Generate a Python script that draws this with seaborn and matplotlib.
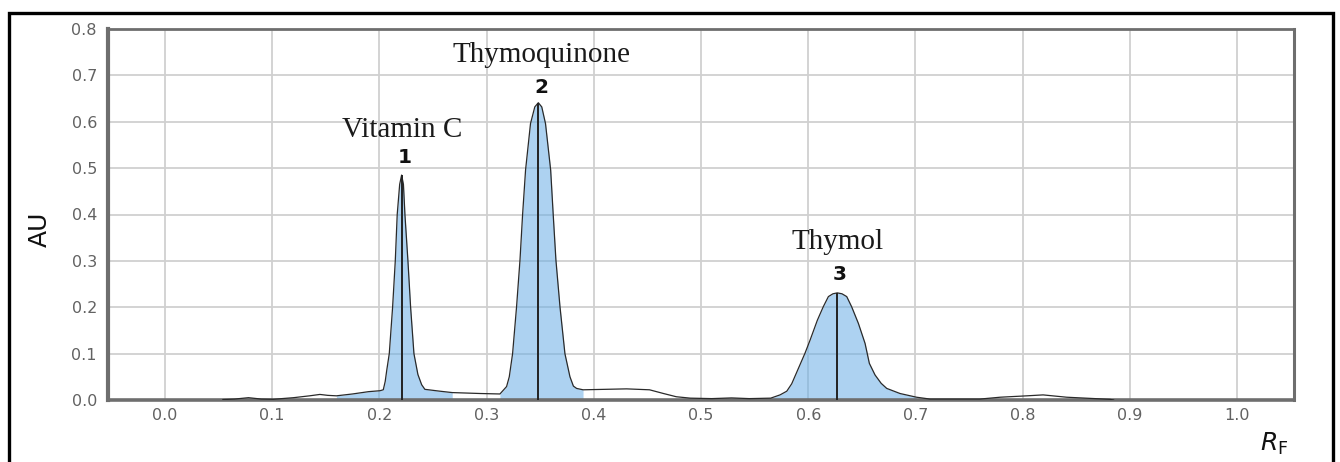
import numpy as np
import pandas as pd
import matplotlib
matplotlib.use("Agg")
import matplotlib.pyplot as plt
from matplotlib.patches import Rectangle
import seaborn as sns

# ---- data ----
rf = [0.054, 0.065, 0.078, 0.090, 0.101, 0.120, 0.135, 0.1446, 0.152, 0.160,
      0.175, 0.190, 0.2006, 0.2037, 0.2055, 0.207, 0.2093, 0.2124, 0.2149, 0.2167,
      0.2190, 0.2208, 0.2225, 0.2239, 0.2267, 0.2292, 0.2323, 0.2360, 0.2395, 0.2425,
      0.2565, 0.268, 0.294, 0.3125, 0.3187, 0.3212, 0.3243, 0.3280, 0.3312, 0.3336,
      0.3364, 0.3410, 0.3450, 0.3483, 0.3515, 0.3550, 0.3598, 0.3622, 0.3647, 0.3685,
      0.3731, 0.3778, 0.381, 0.384, 0.390, 0.4306, 0.452, 0.465, 0.477, 0.490,
      0.510, 0.5286, 0.545, 0.565, 0.5737, 0.5800, 0.5846, 0.5908, 0.597, 0.6017,
      0.6085, 0.614, 0.6188, 0.6230, 0.6271, 0.6315, 0.6359, 0.6405, 0.6468, 0.653,
      0.657, 0.6623, 0.6680, 0.6732, 0.6856, 0.701, 0.7136, 0.740, 0.760, 0.779,
      0.804, 0.819, 0.841, 0.8815, 0.885]
au = [0.001, 0.002, 0.005, 0.002, 0.0015, 0.005, 0.009, 0.012, 0.010, 0.009,
      0.013, 0.018, 0.020, 0.022, 0.040, 0.065, 0.100, 0.200, 0.300, 0.400,
      0.465, 0.485, 0.465, 0.400, 0.300, 0.200, 0.100, 0.055, 0.033, 0.023,
      0.019, 0.016, 0.014, 0.013, 0.029, 0.050, 0.100, 0.201, 0.302, 0.399,
      0.496, 0.596, 0.632, 0.641, 0.632, 0.596, 0.496, 0.399, 0.302, 0.201,
      0.100, 0.050, 0.030, 0.025, 0.022, 0.024, 0.022, 0.014, 0.007, 0.004,
      0.003, 0.0045, 0.003, 0.004, 0.011, 0.019, 0.035, 0.068, 0.101, 0.129,
      0.172, 0.201, 0.223, 0.229, 0.231, 0.229, 0.223, 0.201, 0.165, 0.122,
      0.079, 0.054, 0.036, 0.025, 0.014, 0.006, 0.002, 0.002, 0.002, 0.006,
      0.009, 0.011, 0.006, 0.0014, 0.0]

fill_start = [0.160, 0.3125, 0.565]
fill_end = [0.268, 0.390, 0.701]

peak_rf = [0.2208, 0.3483, 0.6271]
peak_au = [0.485, 0.641, 0.231]
peak_num = ["1", "2", "3"]
peak_name = ["Vitamin C", "Thymoquinone", "Thymol"]
num_x = [0.224, 0.351, 0.629]
num_y = [0.510, 0.663, 0.259]
name_x = [0.2216, 0.351, 0.627]
name_y = [0.568, 0.728, 0.325]

xticks = [0.0, 0.1, 0.2, 0.3, 0.4, 0.5, 0.6, 0.7, 0.8, 0.9, 1.0]
yticks = [0.0, 0.1, 0.2, 0.3, 0.4, 0.5, 0.6, 0.7, 0.8]

df = pd.DataFrame({"RF": rf, "AU": au})

# ---- figure ----
sns.set_style("whitegrid")
plt.rcParams["font.family"] = ["DejaVu Sans"]

fig = plt.figure(figsize=(13.4, 4.62), dpi=100)
ax = fig.add_axes([108 / 1340, 1 - 400 / 462, (1294 - 108) / 1340, (400 - 29) / 462])

ax.set_xlim(-0.053, 1.053)
ax.set_ylim(0, 0.8)
ax.set_xticks(xticks)
ax.set_yticks(yticks)
ax.set_xticklabels([f"{t:.1f}" for t in xticks])
ax.set_yticklabels([f"{t:.1f}" for t in yticks])
ax.grid(True, color="#d0d0d0", linewidth=1.3)
ax.set_axisbelow(True)
ax.tick_params(axis="both", length=0, labelsize=11.5, labelcolor="#626262")
ax.tick_params(axis="x", pad=6)
ax.tick_params(axis="y", pad=8)

x_arr = np.array(rf)
y_arr = np.array(au)
for s, e in zip(fill_start, fill_end):
    m = (x_arr >= s - 1e-9) & (x_arr <= e + 1e-9)
    ax.fill_between(x_arr[m], 0, y_arr[m], color="#6aaee6", alpha=0.55,
                    linewidth=0, zorder=2)

sns.lineplot(data=df, x="RF", y="AU", ax=ax, color="#2a2a2a", linewidth=0.9,
             sort=False, estimator=None, zorder=3)

ax.vlines(peak_rf, 0, peak_au, color="#222222", linewidth=1.4, zorder=4)

for nx, ny, n in zip(num_x, num_y, peak_num):
    ax.text(nx, ny, n, ha="center", va="baseline", fontsize=14.5,
            color="#111111", fontweight="semibold", zorder=5)
for tx, ty, t in zip(name_x, name_y, peak_name):
    ax.text(tx, ty, t, ha="center", va="baseline", fontsize=21,
            family=["Liberation Serif", "DejaVu Serif"], color="#1a1a1a", zorder=5)

ax.set_xlabel("")
ax.set_ylabel("")

for side in ["left", "bottom", "top", "right"]:
    ax.spines[side].set_visible(True)
    ax.spines[side].set_color("#6e6e6e")
ax.spines["left"].set_linewidth(3.0)
ax.spines["bottom"].set_linewidth(2.6)
ax.spines["top"].set_linewidth(2.0)
ax.spines["right"].set_linewidth(2.2)

fig.text(40 / 1340, 1 - 229 / 462, "AU", rotation=90, ha="center", va="center",
         fontsize=18, family=["Liberation Sans Narrow", "DejaVu Sans"], color="#111111")
fig.text(1274 / 1340, 1 - 444 / 462, r"$R_{\mathrm{F}}$", ha="center", va="center",
         fontsize=18, color="#111111")

# outer frame
fig.patches.append(Rectangle((8.5 / 1340, -0.05), (1333 - 8.5) / 1340, 1.05 - 12.5 / 462,
                             transform=fig.transFigure, fill=False,
                             edgecolor="black", linewidth=2.4, zorder=10))

fig.savefig("out.png", dpi=100)
